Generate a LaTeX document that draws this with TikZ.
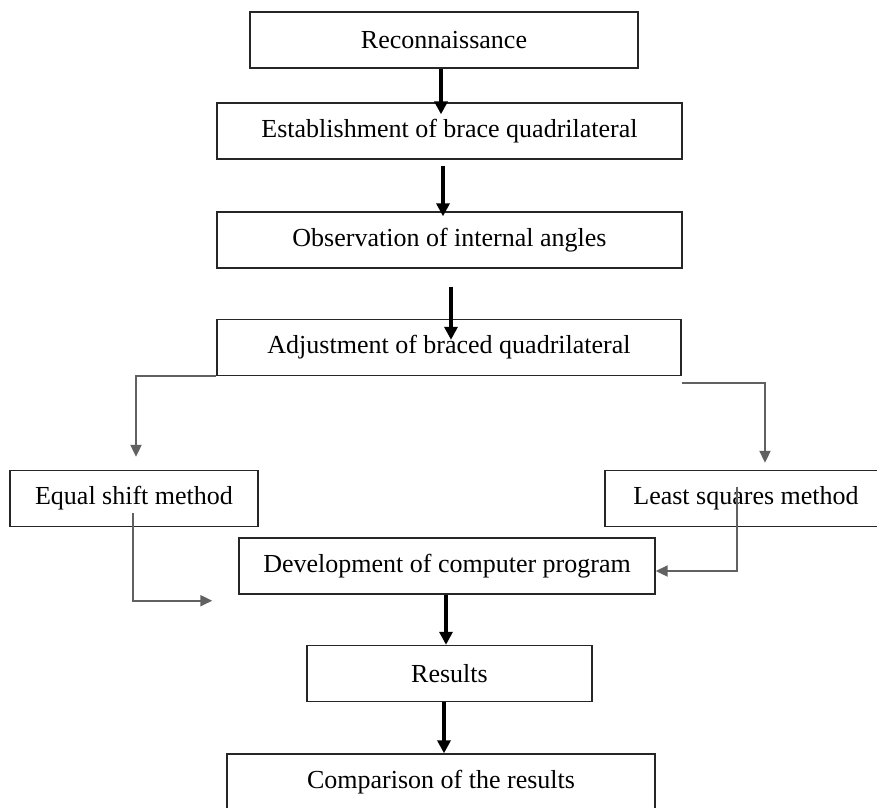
\documentclass[tikz,border=0pt]{standalone}
\usepackage{fontspec}
\setmainfont{Liberation Serif}
\usetikzlibrary{arrows.meta,positioning}
\tikzstyle{stagebox} = [draw=black!85, line width=1.4pt, rectangle, minimum height=56pt, inner sep=0pt, font=\fontsize{26}{30}\selectfont]
\tikzstyle{mainarrow} = [draw=black, line width=3.2pt, -{Triangle[width=13pt,length=13pt]}]
\tikzstyle{sidearrow} = [draw=black!62, line width=2pt, -{Triangle[width=11pt,length=12pt]}]

\begin{document}
\begin{tikzpicture}[x=1pt,y=-1pt]
	\useasboundingbox (0,0) rectangle (877,807);
	% stages
	\node [stagebox, minimum width=388pt] (recon) at (444,40) {Reconnaissance};
	\node [stagebox, minimum width=465pt] (estab) at (449.5,131) {Establishment of brace quadrilateral};
	\node [stagebox, minimum width=465pt] (observ) at (449.5,240) {Observation of internal angles};
	\node [stagebox, minimum width=464pt] (adjust) at (449,347.5) {Adjustment of braced quadrilateral};
	\node [stagebox, minimum width=248pt] (equal) at (134,498.5) {Equal shift method};
	\node [stagebox, minimum width=282pt] (least) at (746,498.5) {Least squares method};
	\node [stagebox, minimum width=416pt] (devel) at (447,566) {Development of computer program};
	\node [stagebox, minimum width=285pt] (result) at (449.5,673.5) {Results};
	\node [stagebox, minimum width=428pt] (compare) at (441,782) {Comparison of the results};
	% main flow
	\draw [mainarrow] ([xshift=-3pt]recon.south) -- ([xshift=-8.5pt,yshift=-12pt]estab.north);
	\draw [mainarrow] ([xshift=-6.5pt,yshift=-6pt]estab.south) -- ([xshift=-6.5pt,yshift=-5pt]observ.north);
	\draw [mainarrow] ([xshift=1.5pt,yshift=-18pt]observ.south) -- ([xshift=2pt,yshift=-21pt]adjust.north);
	\draw [mainarrow] ([xshift=-1pt]devel.south) -- ([xshift=-3.5pt]result.north);
	\draw [mainarrow] ([xshift=-5.5pt]result.south) -- ([xshift=3pt]compare.north);
	% branches
	\draw [sidearrow] (adjust.south west) -| ([xshift=2pt,yshift=13pt]equal.north);
	\draw [sidearrow] ([yshift=-7pt]adjust.south east) -| ([xshift=19pt,yshift=7pt]least.north);
	\draw [sidearrow] ([xshift=-1pt,yshift=14pt]equal.south) |- ([xshift=-26pt,yshift=-6pt]devel.south west);
	\draw [sidearrow] ([xshift=-9pt,yshift=-17pt]least.north) |- ([yshift=-5pt]devel.east);
\end{tikzpicture}
\end{document}
